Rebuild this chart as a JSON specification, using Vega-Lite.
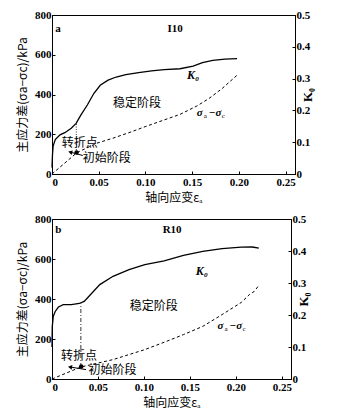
{
  "$schema": "https://vega.github.io/schema/vega-lite/v6.json",
  "background": "white",
  "padding": {"left": 16, "top": 8, "right": 5, "bottom": 5},
  "spacing": 45,
  "bounds": "flush",
  "datasets": {
    "curves": [
      {"panel": "a", "series": "stress", "eps": 0, "value": 0},
      {"panel": "a", "series": "stress", "eps": 0.0268, "value": 108},
      {"panel": "a", "series": "stress", "eps": 0.048, "value": 155},
      {"panel": "a", "series": "stress", "eps": 0.065, "value": 180},
      {"panel": "a", "series": "stress", "eps": 0.0824, "value": 208},
      {"panel": "a", "series": "stress", "eps": 0.0996, "value": 238},
      {"panel": "a", "series": "stress", "eps": 0.12, "value": 272},
      {"panel": "a", "series": "stress", "eps": 0.137, "value": 300},
      {"panel": "a", "series": "stress", "eps": 0.155, "value": 342},
      {"panel": "a", "series": "stress", "eps": 0.168, "value": 380},
      {"panel": "a", "series": "stress", "eps": 0.182, "value": 430},
      {"panel": "a", "series": "stress", "eps": 0.198, "value": 497},
      {"panel": "a", "series": "K0", "eps": 0, "value": 0.02},
      {"panel": "a", "series": "K0", "eps": 0.0005, "value": 0.06},
      {"panel": "a", "series": "K0", "eps": 0.0012, "value": 0.088},
      {"panel": "a", "series": "K0", "eps": 0.0035, "value": 0.108},
      {"panel": "a", "series": "K0", "eps": 0.0086, "value": 0.123},
      {"panel": "a", "series": "K0", "eps": 0.0137, "value": 0.13},
      {"panel": "a", "series": "K0", "eps": 0.0206, "value": 0.144},
      {"panel": "a", "series": "K0", "eps": 0.0258, "value": 0.159},
      {"panel": "a", "series": "K0", "eps": 0.031, "value": 0.186},
      {"panel": "a", "series": "K0", "eps": 0.0378, "value": 0.217},
      {"panel": "a", "series": "K0", "eps": 0.0447, "value": 0.253},
      {"panel": "a", "series": "K0", "eps": 0.0516, "value": 0.279},
      {"panel": "a", "series": "K0", "eps": 0.06, "value": 0.295},
      {"panel": "a", "series": "K0", "eps": 0.0687, "value": 0.305},
      {"panel": "a", "series": "K0", "eps": 0.079, "value": 0.3125},
      {"panel": "a", "series": "K0", "eps": 0.0927, "value": 0.319},
      {"panel": "a", "series": "K0", "eps": 0.1065, "value": 0.324},
      {"panel": "a", "series": "K0", "eps": 0.12, "value": 0.328},
      {"panel": "a", "series": "K0", "eps": 0.137, "value": 0.331},
      {"panel": "a", "series": "K0", "eps": 0.151, "value": 0.339},
      {"panel": "a", "series": "K0", "eps": 0.161, "value": 0.35},
      {"panel": "a", "series": "K0", "eps": 0.172, "value": 0.357},
      {"panel": "a", "series": "K0", "eps": 0.185, "value": 0.361},
      {"panel": "a", "series": "K0", "eps": 0.198, "value": 0.3625},
      {"panel": "b", "series": "stress", "eps": 0, "value": 0},
      {"panel": "b", "series": "stress", "eps": 0.0314, "value": 60},
      {"panel": "b", "series": "stress", "eps": 0.0664, "value": 97},
      {"panel": "b", "series": "stress", "eps": 0.101, "value": 147},
      {"panel": "b", "series": "stress", "eps": 0.125, "value": 189},
      {"panel": "b", "series": "stress", "eps": 0.143, "value": 222},
      {"panel": "b", "series": "stress", "eps": 0.164, "value": 263},
      {"panel": "b", "series": "stress", "eps": 0.185, "value": 322},
      {"panel": "b", "series": "stress", "eps": 0.206, "value": 383},
      {"panel": "b", "series": "stress", "eps": 0.2147, "value": 422},
      {"panel": "b", "series": "stress", "eps": 0.22, "value": 438},
      {"panel": "b", "series": "stress", "eps": 0.225, "value": 468},
      {"panel": "b", "series": "K0", "eps": 0, "value": 0.1},
      {"panel": "b", "series": "K0", "eps": 0.0003, "value": 0.164},
      {"panel": "b", "series": "K0", "eps": 0.0014, "value": 0.196},
      {"panel": "b", "series": "K0", "eps": 0.0035, "value": 0.211},
      {"panel": "b", "series": "K0", "eps": 0.007, "value": 0.225},
      {"panel": "b", "series": "K0", "eps": 0.0122, "value": 0.2325},
      {"panel": "b", "series": "K0", "eps": 0.021, "value": 0.2325},
      {"panel": "b", "series": "K0", "eps": 0.0297, "value": 0.236},
      {"panel": "b", "series": "K0", "eps": 0.035, "value": 0.2425},
      {"panel": "b", "series": "K0", "eps": 0.042, "value": 0.264},
      {"panel": "b", "series": "K0", "eps": 0.052, "value": 0.295},
      {"panel": "b", "series": "K0", "eps": 0.0664, "value": 0.321},
      {"panel": "b", "series": "K0", "eps": 0.0838, "value": 0.342},
      {"panel": "b", "series": "K0", "eps": 0.101, "value": 0.3575},
      {"panel": "b", "series": "K0", "eps": 0.122, "value": 0.369},
      {"panel": "b", "series": "K0", "eps": 0.143, "value": 0.386},
      {"panel": "b", "series": "K0", "eps": 0.164, "value": 0.399},
      {"panel": "b", "series": "K0", "eps": 0.185, "value": 0.4075},
      {"panel": "b", "series": "K0", "eps": 0.206, "value": 0.412},
      {"panel": "b", "series": "K0", "eps": 0.218, "value": 0.4125},
      {"panel": "b", "series": "K0", "eps": 0.225, "value": 0.409}
    ],
    "dots": [
      {"panel": "a", "eps": 0.0263, "value": 108},
      {"panel": "b", "eps": 0.0318, "value": 62}
    ],
    "vlines": [
      {"panel": "a", "eps": 0.026, "y1": 108, "y2": 255},
      {"panel": "b", "eps": 0.0314, "y1": 60, "y2": 378}
    ],
    "arrows": [
      {"panel": "a", "eps": 0.033, "value": 93, "eps2": 0.0195, "value2": 110, "angle": 285},
      {"panel": "b", "eps": 0.037, "value": 47, "eps2": 0.0196, "value2": 60, "angle": 279}
    ],
    "cjk": [
      {"panel": "a", "text": "转折点", "eps": 0.0296, "value": 158},
      {"panel": "a", "text": "初始阶段", "eps": 0.0585, "value": 78},
      {"panel": "a", "text": "稳定阶段", "eps": 0.091, "value": 358},
      {"panel": "b", "text": "转折点", "eps": 0.0295, "value": 115},
      {"panel": "b", "text": "初始阶段", "eps": 0.0657, "value": 47},
      {"panel": "b", "text": "稳定阶段", "eps": 0.1107, "value": 367}
    ],
    "tags": [
      {"panel": "a", "text": "a", "eps": 0.0035, "value": 730},
      {"panel": "a", "text": "I10", "eps": 0.1235, "value": 730},
      {"panel": "b", "text": "b", "eps": 0.0035, "value": 745},
      {"panel": "b", "text": "R10", "eps": 0.1204, "value": 745}
    ],
    "klab": [
      {"panel": "a", "eps": 0.151, "value": 497},
      {"panel": "b", "eps": 0.163, "value": 538}
    ],
    "slab": [
      {"panel": "a", "eps": 0.155, "value": 308},
      {"panel": "b", "eps": 0.18, "value": 263}
    ]
  },
  "vconcat": [
    {
      "width": 243,
      "height": 159,
      "resolve": {"scale": {"y": "independent"}, "axis": {"y": "independent"}},
      "layer": [
        {
          "encoding": {
            "x": {"field": "eps", "type": "quantitative", "scale": {"domain": [0, 0.25]}, "axis": {"values": [0, 0.05, 0.1, 0.15, 0.2, 0.25], "labelExpr": "datum.value == 0 ? '0' : format(datum.value, '.2f')", "title": "轴向应变εₐ"}},
            "y": {"field": "value", "type": "quantitative", "scale": {"domain": [0, 800]}, "axis": {"values": [0, 200, 400, 600, 800], "title": "主应力差(σa−σc)/kPa"}}
          },
          "layer": [
            {
              "data": {"name": "curves"},
              "transform": [{"filter": "datum.panel == 'a' && datum.series == 'stress'"}],
              "mark": {"type": "line", "color": "black", "strokeWidth": 1, "strokeDash": [3, 2.5]}
            },
            {
              "data": {"name": "vlines"},
              "transform": [{"filter": "datum.panel == 'a'"}],
              "mark": {"type": "rule", "color": "#333", "strokeWidth": 1, "strokeDash": [1, 1.5]},
              "encoding": {"y": {"field": "y1", "type": "quantitative"}, "y2": {"field": "y2"}}
            },
            {
              "data": {"name": "dots"},
              "transform": [{"filter": "datum.panel == 'a'"}],
              "mark": {"type": "point", "filled": true, "color": "black", "size": 20, "opacity": 1}
            },
            {
              "data": {"name": "arrows"},
              "transform": [{"filter": "datum.panel == 'a'"}],
              "mark": {"type": "rule", "color": "black", "strokeWidth": 1},
              "encoding": {"x2": {"field": "eps2"}, "y2": {"field": "value2"}}
            },
            {
              "data": {"name": "arrows"},
              "transform": [{"filter": "datum.panel == 'a'"}],
              "mark": {"type": "point", "shape": "triangle-up", "filled": true, "color": "black", "size": 22, "opacity": 1},
              "encoding": {"x": {"field": "eps2", "type": "quantitative"}, "y": {"field": "value2", "type": "quantitative"}, "angle": {"field": "angle", "type": "quantitative", "scale": null}}
            },
            {
              "data": {"name": "cjk"},
              "transform": [{"filter": "datum.panel == 'a'"}],
              "mark": {"type": "text", "font": "Noto Sans CJK SC", "fontSize": 12, "color": "black"},
              "encoding": {"text": {"field": "text"}}
            },
            {
              "data": {"name": "tags"},
              "transform": [{"filter": "datum.panel == 'a'"}],
              "mark": {"type": "text", "font": "Liberation Serif", "fontWeight": "bold", "fontSize": 11, "align": "left", "color": "black"},
              "encoding": {"text": {"field": "text"}}
            },
            {
              "data": {"name": "klab"},
              "transform": [{"filter": "datum.panel == 'a'"}],
              "mark": {"type": "text", "font": "Liberation Serif", "fontWeight": "bold", "fontStyle": "italic", "fontSize": 12, "color": "black", "text": "K₀"}
            },
            {
              "data": {"name": "slab"},
              "transform": [{"filter": "datum.panel == 'a'"}],
              "mark": {"type": "text", "font": "Liberation Serif", "fontWeight": "bold", "fontStyle": "italic", "fontSize": 11, "align": "left", "color": "black", "text": "σ"}
            },
            {
              "data": {"name": "slab"},
              "transform": [{"filter": "datum.panel == 'a'"}],
              "mark": {"type": "text", "font": "Liberation Serif", "fontSize": 7, "align": "left", "color": "black", "text": "a", "dx": 7, "dy": 3}
            },
            {
              "data": {"name": "slab"},
              "transform": [{"filter": "datum.panel == 'a'"}],
              "mark": {"type": "text", "font": "Liberation Serif", "fontWeight": "bold", "fontStyle": "italic", "fontSize": 11, "align": "left", "color": "black", "text": "−σ", "dx": 12}
            },
            {
              "data": {"name": "slab"},
              "transform": [{"filter": "datum.panel == 'a'"}],
              "mark": {"type": "text", "font": "Liberation Serif", "fontSize": 7, "align": "left", "color": "black", "text": "c", "dx": 25, "dy": 3}
            }
          ]
        },
        {
          "data": {"name": "curves"},
          "transform": [{"filter": "datum.panel == 'a' && datum.series == 'K0'"}],
          "mark": {"type": "line", "color": "black", "strokeWidth": 1.3},
          "encoding": {
            "x": {"field": "eps", "type": "quantitative"},
            "y": {"field": "value", "type": "quantitative", "scale": {"domain": [0, 0.5]}, "axis": {"orient": "right", "values": [0, 0.1, 0.2, 0.3, 0.4, 0.5], "labelExpr": "datum.value == 0 ? '0' : format(datum.value, '.1f')", "title": "K₀", "titleFont": "Liberation Serif", "titleFontWeight": "bold", "titleFontSize": 13, "titleAngle": 270}}
          }
        }
      ]
    },
    {
      "width": 239,
      "height": 160,
      "resolve": {"scale": {"y": "independent"}, "axis": {"y": "independent"}},
      "layer": [
        {
          "encoding": {
            "x": {"field": "eps", "type": "quantitative", "scale": {"domain": [0, 0.25]}, "axis": {"values": [0, 0.05, 0.1, 0.15, 0.2, 0.25], "labelExpr": "datum.value == 0 ? '0' : format(datum.value, '.2f')", "title": "轴向应变εₐ"}},
            "y": {"field": "value", "type": "quantitative", "scale": {"domain": [0, 800]}, "axis": {"values": [0, 200, 400, 600, 800], "title": "主应力差(σa−σc)/kPa"}}
          },
          "layer": [
            {
              "data": {"name": "curves"},
              "transform": [{"filter": "datum.panel == 'b' && datum.series == 'stress'"}],
              "mark": {"type": "line", "color": "black", "strokeWidth": 1, "strokeDash": [3, 2.5]}
            },
            {
              "data": {"name": "vlines"},
              "transform": [{"filter": "datum.panel == 'b'"}],
              "mark": {"type": "rule", "color": "black", "strokeWidth": 0.8, "strokeDash": [4, 2, 1, 2]},
              "encoding": {"y": {"field": "y1", "type": "quantitative"}, "y2": {"field": "y2"}}
            },
            {
              "data": {"name": "dots"},
              "transform": [{"filter": "datum.panel == 'b'"}],
              "mark": {"type": "point", "filled": true, "color": "black", "size": 20, "opacity": 1}
            },
            {
              "data": {"name": "arrows"},
              "transform": [{"filter": "datum.panel == 'b'"}],
              "mark": {"type": "rule", "color": "black", "strokeWidth": 1},
              "encoding": {"x2": {"field": "eps2"}, "y2": {"field": "value2"}}
            },
            {
              "data": {"name": "arrows"},
              "transform": [{"filter": "datum.panel == 'b'"}],
              "mark": {"type": "point", "shape": "triangle-up", "filled": true, "color": "black", "size": 22, "opacity": 1},
              "encoding": {"x": {"field": "eps2", "type": "quantitative"}, "y": {"field": "value2", "type": "quantitative"}, "angle": {"field": "angle", "type": "quantitative", "scale": null}}
            },
            {
              "data": {"name": "cjk"},
              "transform": [{"filter": "datum.panel == 'b'"}],
              "mark": {"type": "text", "font": "Noto Sans CJK SC", "fontSize": 12, "color": "black"},
              "encoding": {"text": {"field": "text"}}
            },
            {
              "data": {"name": "tags"},
              "transform": [{"filter": "datum.panel == 'b'"}],
              "mark": {"type": "text", "font": "Liberation Serif", "fontWeight": "bold", "fontSize": 11, "align": "left", "color": "black"},
              "encoding": {"text": {"field": "text"}}
            },
            {
              "data": {"name": "klab"},
              "transform": [{"filter": "datum.panel == 'b'"}],
              "mark": {"type": "text", "font": "Liberation Serif", "fontWeight": "bold", "fontStyle": "italic", "fontSize": 12, "color": "black", "text": "K₀"}
            },
            {
              "data": {"name": "slab"},
              "transform": [{"filter": "datum.panel == 'b'"}],
              "mark": {"type": "text", "font": "Liberation Serif", "fontWeight": "bold", "fontStyle": "italic", "fontSize": 11, "align": "left", "color": "black", "text": "σ"}
            },
            {
              "data": {"name": "slab"},
              "transform": [{"filter": "datum.panel == 'b'"}],
              "mark": {"type": "text", "font": "Liberation Serif", "fontSize": 7, "align": "left", "color": "black", "text": "a", "dx": 7, "dy": 3}
            },
            {
              "data": {"name": "slab"},
              "transform": [{"filter": "datum.panel == 'b'"}],
              "mark": {"type": "text", "font": "Liberation Serif", "fontWeight": "bold", "fontStyle": "italic", "fontSize": 11, "align": "left", "color": "black", "text": "−σ", "dx": 12}
            },
            {
              "data": {"name": "slab"},
              "transform": [{"filter": "datum.panel == 'b'"}],
              "mark": {"type": "text", "font": "Liberation Serif", "fontSize": 7, "align": "left", "color": "black", "text": "c", "dx": 25, "dy": 3}
            }
          ]
        },
        {
          "data": {"name": "curves"},
          "transform": [{"filter": "datum.panel == 'b' && datum.series == 'K0'"}],
          "mark": {"type": "line", "color": "black", "strokeWidth": 1.3},
          "encoding": {
            "x": {"field": "eps", "type": "quantitative"},
            "y": {"field": "value", "type": "quantitative", "scale": {"domain": [0, 0.5]}, "axis": {"orient": "right", "values": [0, 0.1, 0.2, 0.3, 0.4, 0.5], "labelExpr": "datum.value == 0 ? '0' : format(datum.value, '.1f')", "title": "K₀", "titleFont": "Liberation Serif", "titleFontWeight": "bold", "titleFontSize": 13, "titleAngle": 270}}
          }
        }
      ]
    }
  ],
  "config": {
    "view": {"stroke": "black", "strokeWidth": 1},
    "axis": {
      "grid": false,
      "domainColor": "black",
      "domainWidth": 1,
      "tickColor": "black",
      "tickSize": -3,
      "labelColor": "black",
      "labelFont": "Liberation Serif",
      "labelFontSize": 11,
      "labelFontWeight": "bold",
      "labelPadding": 4,
      "titleColor": "black",
      "titleFont": "Noto Sans CJK SC",
      "titleFontSize": 12,
      "titleFontWeight": "normal"
    },
    "axisX": {"titlePadding": 5, "labelPadding": 5},
    "axisY": {"titlePadding": 5}
  }
}
